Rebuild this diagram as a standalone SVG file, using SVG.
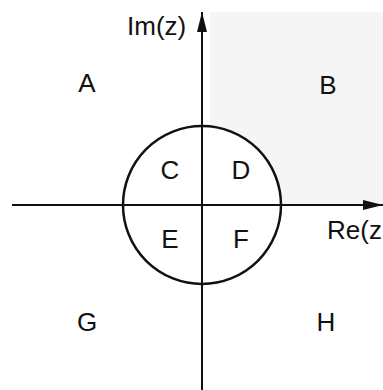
<svg xmlns="http://www.w3.org/2000/svg" width="383" height="390" viewBox="0 0 383 390">
  <style>
    .ax { stroke: #111; stroke-width: 2; fill: none; }
    .lbl { font-family: "Liberation Sans", Arial, sans-serif; font-size: 26px; fill: #111; }
    .mid { text-anchor: middle; }
  </style>
  <defs>
    <marker id="arr" viewBox="0 0 20 10" refX="20" refY="5" markerWidth="20" markerHeight="10" markerUnits="userSpaceOnUse" orient="auto">
      <path d="M0,0 L20,5 L0,10 Z" fill="#111"/>
    </marker>
  </defs>
  <rect width="383" height="390" fill="#fff"/>
  <path id="shade" d="M210,12 H383 V204 H281 A79,79 0 0 0 210,126.4 Z" fill="#f5f5f5"/>
  <g id="axes">
    <line class="ax" x1="12" y1="205" x2="383" y2="205" marker-end="url(#arr)"/>
    <line class="ax" x1="202" y1="390" x2="202" y2="12" marker-end="url(#arr)"/>
  </g>
  <circle id="circle" cx="202" cy="205" r="79" fill="none" stroke="#111" stroke-width="2.5"/>
  <g id="axis-labels">
    <text class="lbl" x="127" y="35">Im(z)</text>
    <text class="lbl" x="327" y="239">Re(z</text>
  </g>
  <g id="A"><text class="lbl mid" x="87" y="92">A</text></g>
  <g id="B"><text class="lbl mid" x="328" y="94">B</text></g>
  <g id="C"><text class="lbl mid" x="170" y="179">C</text></g>
  <g id="D"><text class="lbl mid" x="241" y="179">D</text></g>
  <g id="E"><text class="lbl mid" x="170" y="248">E</text></g>
  <g id="F"><text class="lbl mid" x="241" y="248">F</text></g>
  <g id="G"><text class="lbl mid" x="87" y="331">G</text></g>
  <g id="H"><text class="lbl mid" x="326" y="331">H</text></g>
</svg>
